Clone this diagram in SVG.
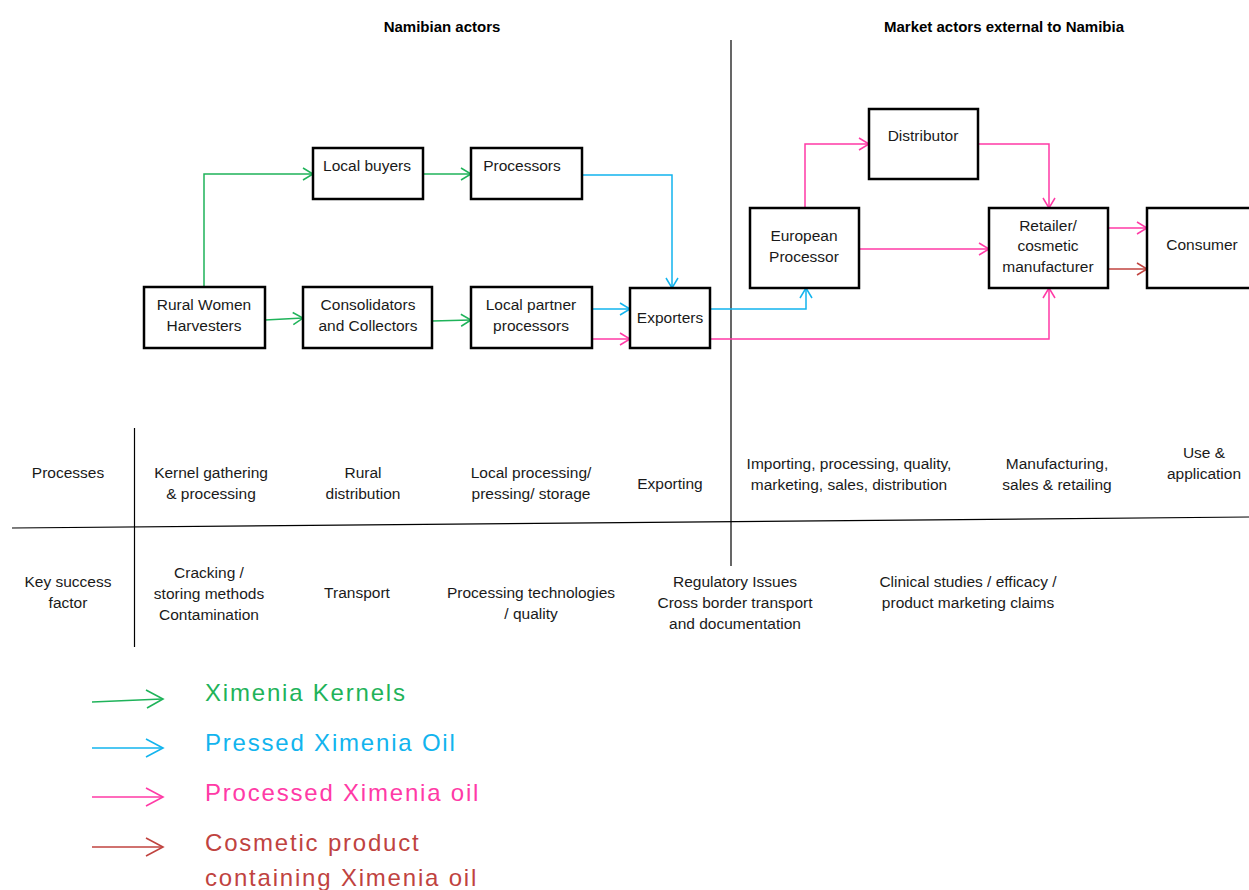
<svg xmlns="http://www.w3.org/2000/svg" width="1249" height="890" viewBox="0 0 1249 890">
  <style>
    .box { fill: #ffffff; stroke: #000000; stroke-width: 2.5; }
    .lbl { font-family: "Liberation Sans", Arial, sans-serif; font-size: 15.5px; fill: #1a1a1a; text-anchor: middle; }
    .hdr { font-family: "Liberation Sans", Arial, sans-serif; font-size: 15px; font-weight: bold; fill: #000000; text-anchor: middle; }
    .rule { stroke: #000000; stroke-width: 1.2; fill: none; }
    .c { fill: none; stroke-width: 1.5; }
    .g { stroke: #1fb35a; }
    .b { stroke: #12b4ee; }
    .p { stroke: #ff3aa6; }
    .r { stroke: #c0433f; }
    .leg { font-family: "Liberation Sans", Arial, sans-serif; font-size: 24px; letter-spacing: 1.8px; }
  </style>
  <defs>
    <marker id="ah-g" markerUnits="userSpaceOnUse" markerWidth="14" markerHeight="14" refX="11" refY="7" orient="auto">
      <path d="M1,1 L11,7 L1,13" fill="none" stroke="#1fb35a" stroke-width="1.5"/>
    </marker>
    <marker id="ah-b" markerUnits="userSpaceOnUse" markerWidth="14" markerHeight="14" refX="11" refY="7" orient="auto">
      <path d="M1,1 L11,7 L1,13" fill="none" stroke="#12b4ee" stroke-width="1.5"/>
    </marker>
    <marker id="ah-p" markerUnits="userSpaceOnUse" markerWidth="14" markerHeight="14" refX="11" refY="7" orient="auto">
      <path d="M1,1 L11,7 L1,13" fill="none" stroke="#ff3aa6" stroke-width="1.5"/>
    </marker>
    <marker id="ah-r" markerUnits="userSpaceOnUse" markerWidth="14" markerHeight="14" refX="11" refY="7" orient="auto">
      <path d="M1,1 L11,7 L1,13" fill="none" stroke="#c0433f" stroke-width="1.5"/>
    </marker>
  </defs>

  <rect x="0" y="0" width="1249" height="890" fill="#ffffff"/>

  <!-- column headings -->
  <text class="hdr" x="442" y="32">Namibian actors</text>
  <text class="hdr" x="1004" y="32">Market actors external to Namibia</text>

  <!-- table rules -->
  <g id="rules">
    <line class="rule" x1="731" y1="40" x2="731" y2="566"/>
    <line class="rule" x1="134.5" y1="428" x2="134.5" y2="647"/>
    <line class="rule" x1="12" y1="528" x2="1249" y2="517" stroke-width="1.6"/>
  </g>

  <!-- connectors -->
  <g id="connectors">
    <polyline class="c g" points="204,287 204,174 313,174" marker-end="url(#ah-g)"/>
    <line class="c g" x1="423" y1="174" x2="471" y2="174" marker-end="url(#ah-g)"/>
    <line class="c g" x1="265" y1="320" x2="303" y2="318" marker-end="url(#ah-g)"/>
    <line class="c g" x1="432" y1="321" x2="471" y2="320" marker-end="url(#ah-g)"/>
    <polyline class="c b" points="582,175 672,175 672,288" marker-end="url(#ah-b)"/>
    <line class="c b" x1="592" y1="309" x2="630" y2="309" marker-end="url(#ah-b)"/>
    <line class="c p" x1="592" y1="339" x2="630" y2="339" marker-end="url(#ah-p)"/>
    <polyline class="c b" points="710,309 806,309 806,288" marker-end="url(#ah-b)"/>
    <polyline class="c p" points="710,339 1049,339 1049,288" marker-end="url(#ah-p)"/>
    <polyline class="c p" points="805,208 805,144 869,144" marker-end="url(#ah-p)"/>
    <polyline class="c p" points="978,144 1049,144 1049,208" marker-end="url(#ah-p)"/>
    <line class="c p" x1="859" y1="249" x2="989" y2="249" marker-end="url(#ah-p)"/>
    <line class="c p" x1="1108" y1="228" x2="1147" y2="228" marker-end="url(#ah-p)"/>
    <line class="c r" x1="1108" y1="269" x2="1147" y2="269" marker-end="url(#ah-r)"/>
  </g>

  <!-- actor nodes -->
  <g id="local-buyers">
    <rect class="box" x="313" y="148" width="110" height="51"/>
    <text class="lbl" x="367" y="171">Local buyers</text>
  </g>
  <g id="processors">
    <rect class="box" x="471" y="148" width="111" height="51"/>
    <text class="lbl" x="522" y="171">Processors</text>
  </g>
  <g id="rural-women-harvesters">
    <rect class="box" x="144" y="287" width="121" height="61"/>
    <text class="lbl" x="204" y="310">Rural Women</text>
    <text class="lbl" x="204" y="331">Harvesters</text>
  </g>
  <g id="consolidators">
    <rect class="box" x="303" y="287" width="129" height="61"/>
    <text class="lbl" x="368" y="310">Consolidators</text>
    <text class="lbl" x="368" y="331">and Collectors</text>
  </g>
  <g id="local-partner-processors">
    <rect class="box" x="471" y="287" width="121" height="61"/>
    <text class="lbl" x="531" y="310">Local partner</text>
    <text class="lbl" x="531" y="331">processors</text>
  </g>
  <g id="exporters">
    <rect class="box" x="630" y="288" width="80" height="60"/>
    <text class="lbl" x="670" y="323">Exporters</text>
  </g>
  <g id="distributor">
    <rect class="box" x="869" y="109" width="109" height="70"/>
    <text class="lbl" x="923" y="141">Distributor</text>
  </g>
  <g id="european-processor">
    <rect class="box" x="750" y="208" width="109" height="80"/>
    <text class="lbl" x="804" y="241">European</text>
    <text class="lbl" x="804" y="262">Processor</text>
  </g>
  <g id="retailer">
    <rect class="box" x="989" y="208" width="119" height="80"/>
    <text class="lbl" x="1048" y="231">Retailer/</text>
    <text class="lbl" x="1048" y="251">cosmetic</text>
    <text class="lbl" x="1048" y="272">manufacturer</text>
  </g>
  <g id="consumer">
    <rect class="box" x="1147" y="208" width="110" height="80"/>
    <text class="lbl" x="1202" y="250">Consumer</text>
  </g>

  <!-- processes row -->
  <g id="processes-row">
    <text class="lbl" x="68" y="478">Processes</text>
    <text class="lbl" x="211" y="478">Kernel gathering</text>
    <text class="lbl" x="211" y="499">&amp; processing</text>
    <text class="lbl" x="363" y="478">Rural</text>
    <text class="lbl" x="363" y="499">distribution</text>
    <text class="lbl" x="531" y="478">Local processing/</text>
    <text class="lbl" x="531" y="499">pressing/ storage</text>
    <text class="lbl" x="670" y="489">Exporting</text>
    <text class="lbl" x="849" y="469">Importing, processing, quality,</text>
    <text class="lbl" x="849" y="490">marketing, sales, distribution</text>
    <text class="lbl" x="1057" y="469">Manufacturing,</text>
    <text class="lbl" x="1057" y="490">sales &amp; retailing</text>
    <text class="lbl" x="1204" y="458">Use &amp;</text>
    <text class="lbl" x="1204" y="479">application</text>
  </g>

  <!-- key success factor row -->
  <g id="success-row">
    <text class="lbl" x="68" y="587">Key success</text>
    <text class="lbl" x="68" y="608">factor</text>
    <text class="lbl" x="209" y="578">Cracking /</text>
    <text class="lbl" x="209" y="599">storing methods</text>
    <text class="lbl" x="209" y="620">Contamination</text>
    <text class="lbl" x="357" y="598">Transport</text>
    <text class="lbl" x="531" y="598">Processing technologies</text>
    <text class="lbl" x="531" y="619">/ quality</text>
    <text class="lbl" x="735" y="587">Regulatory Issues</text>
    <text class="lbl" x="735" y="608">Cross border transport</text>
    <text class="lbl" x="735" y="629">and documentation</text>
    <text class="lbl" x="968" y="587">Clinical studies / efficacy /</text>
    <text class="lbl" x="968" y="608">product marketing claims</text>
  </g>

  <!-- legend -->
  <g id="legend">
    <g fill="none" stroke-width="1.6">
      <line x1="92" y1="702" x2="162" y2="699" stroke="#1fb35a"/>
      <polyline points="146,690 163,699 147,708" stroke="#1fb35a"/>
      <line x1="92" y1="748" x2="162" y2="748" stroke="#12b4ee"/>
      <polyline points="146,739 163,748 146,757" stroke="#12b4ee"/>
      <line x1="92" y1="797" x2="162" y2="797" stroke="#ff3aa6"/>
      <polyline points="146,788 163,797 146,806" stroke="#ff3aa6"/>
      <line x1="92" y1="847" x2="162" y2="847" stroke="#c0433f"/>
      <polyline points="146,838 163,847 146,856" stroke="#c0433f"/>
    </g>
    <text class="leg" x="205" y="701" fill="#1fb35a">Ximenia Kernels</text>
    <text class="leg" x="205" y="751" fill="#12b4ee">Pressed Ximenia Oil</text>
    <text class="leg" x="205" y="801" fill="#ff3aa6">Processed Ximenia oil</text>
    <text class="leg" x="205" y="851" fill="#c0433f">Cosmetic product</text>
    <text class="leg" x="205" y="886" fill="#c0433f">containing Ximenia oil</text>
  </g>
</svg>
